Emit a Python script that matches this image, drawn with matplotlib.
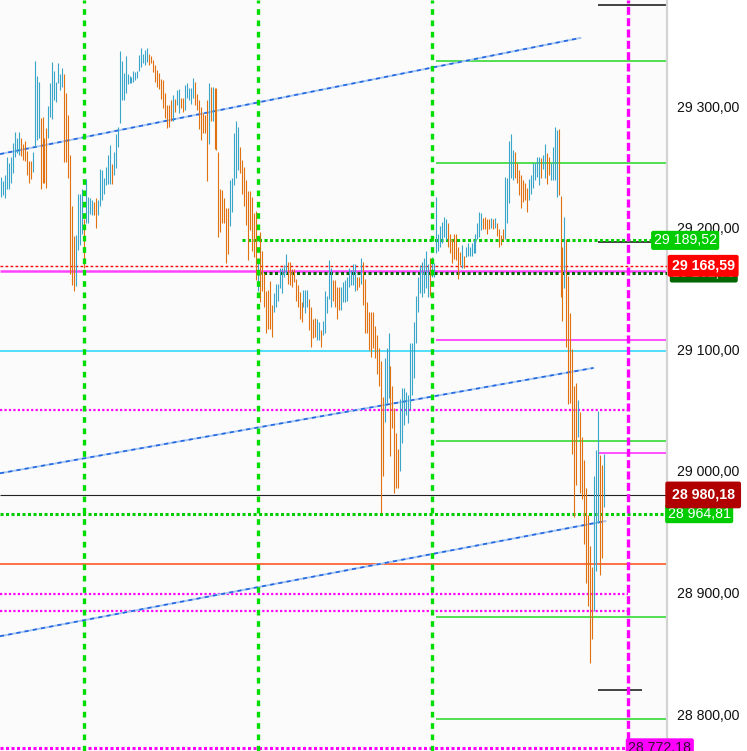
import matplotlib
matplotlib.use("Agg")
import matplotlib.pyplot as plt

plt.rcParams["font.family"] = ["Liberation Sans", "DejaVu Sans"]

# bar data (high, low, direction u=up/blue, d=down/orange)
bar_high = [
    29242, 29238, 29243, 29258, 29253, 29258, 29270, 29279, 29274, 29279,
    29274, 29269, 29271, 29263, 29255, 29255, 29262, 29337, 29325, 29320,
    29290, 29291, 29274, 29282, 29300, 29319, 29336, 29329, 29320, 29335,
    29326, 29331, 29326, 29311, 29293, 29260, 29218, 29193, 29194, 29228,
    29228, 29232, 29207, 29240, 29225, 29224, 29223, 29221, 29224, 29223,
    29248, 29247, 29241, 29250, 29260, 29268, 29252, 29262, 29277, 29283,
    29345, 29337, 29327, 29341, 29326, 29325, 29324, 29329, 29328, 29329,
    29342, 29348, 29343, 29346, 29348, 29343, 29341, 29338, 29334, 29330,
    29327, 29322,
    29321, 29311, 29301, 29301, 29305, 29309, 29306, 29313, 29314, 29307,
    29307, 29317, 29319, 29315, 29315, 29323, 29320, 29310, 29305, 29299,
    29294, 29293, 29305, 29319, 29316, 29316, 29315, 29315, 29262, 29232,
    29231, 29224, 29216, 29216, 29239, 29241, 29278, 29288, 29283, 29266,
    29256, 29250, 29239, 29230, 29230, 29225, 29212, 29214,
    29172,
    29196, 29181, 29163, 29148, 29149, 29156, 29136, 29146, 29154, 29154,
    29167, 29167, 29169, 29178, 29172, 29172, 29166, 29166, 29158, 29153,
    29147, 29139, 29149, 29149, 29149, 29141, 29135, 29125, 29126, 29125,
    29122, 29116, 29123, 29148, 29144, 29173, 29167, 29157, 29157, 29151,
    29151, 29151, 29155, 29157, 29159, 29167, 29165, 29170, 29170, 29159,
    29159, 29175, 29172, 29158, 29139, 29131, 29131, 29131, 29119, 29112,
    29101, 29090, 29061, 29093, 29101, 29113, 29086, 29070, 29052, 29031,
    29018, 29059, 29068, 29068, 29065, 29062, 29105, 29105, 29122, 29144,
    29159, 29169, 29172, 29175, 29181, 29170, 29175, 29176, 29171, 29225,
    29195, 29201, 29205, 29209, 29207, 29204, 29195, 29191, 29195, 29195,
    29184, 29180, 29186, 29177, 29184, 29187, 29184, 29187, 29190, 29195,
    29204, 29213, 29212, 29208, 29209, 29207, 29207, 29208, 29207, 29208,
    29204, 29199, 29194, 29199, 29242, 29241, 29271, 29277, 29264, 29262,
    29253, 29247, 29243, 29239, 29237, 29233, 29240, 29243, 29253, 29253,
    29258, 29258, 29257, 29260, 29269, 29261, 29258, 29253, 29266, 29283,
    29280, 29281, 29226, 29184, 29209, 29191, 29160, 29130, 29100, 29070,
    29072, 29058, 29048, 29028, 29009, 28986, 28964, 28938, 28921, 28996,
    29017, 29049, 29013, 29005, 29014,
]
bar_low = [
    29225, 29227, 29224, 29232, 29232, 29237, 29245, 29258, 29261, 29260,
    29259, 29256, 29255, 29243, 29237, 29240, 29246, 29266, 29272, 29274,
    29232, 29237, 29237, 29233, 29274, 29291, 29289, 29305, 29303, 29319,
    29313, 29316, 29254, 29254, 29241, 29162, 29153, 29148, 29152, 29182,
    29186, 29195, 29167, 29204, 29204, 29211, 29210, 29210, 29200, 29210,
    29218, 29223, 29228, 29235, 29236, 29236, 29236, 29243, 29249, 29266,
    29286, 29305, 29305, 29311, 29318, 29319, 29319, 29320, 29321, 29323,
    29329, 29332, 29335, 29334, 29336, 29334, 29335, 29328, 29320, 29316,
    29314, 29306,
    29298, 29290, 29282, 29283, 29288, 29288, 29295, 29301, 29294, 29298,
    29295, 29297, 29307, 29305, 29302, 29307, 29301, 29297, 29281, 29272,
    29278, 29278, 29238, 29269, 29288, 29288, 29265, 29264, 29192, 29196,
    29204, 29204, 29171, 29178, 29201, 29213, 29235, 29241, 29247, 29245,
    29228, 29218, 29202, 29173, 29198, 29181, 29176, 29157,
    29148,
    29139, 29148, 29135, 29113, 29117, 29117, 29110, 29131, 29135, 29140,
    29150, 29146, 29159, 29162, 29154, 29153, 29151, 29155, 29140, 29135,
    29125, 29122, 29135, 29130, 29135, 29116, 29102, 29109, 29110, 29108,
    29108, 29102, 29112, 29113, 29130, 29141, 29135, 29140, 29135, 29125,
    29132, 29132, 29139, 29139, 29140, 29151, 29153, 29153, 29148, 29149,
    29151, 29154, 29136, 29113, 29113, 29099, 29094, 29101, 29093, 29080,
    29070, 28965, 28996, 29040, 29056, 29060, 29012, 29035, 28982, 28986,
    28986, 29000, 29023, 29038, 29046, 29039, 29051, 29062, 29076, 29105,
    29131, 29146, 29143, 29146, 29150, 29143, 29144, 29159, 29159, 29179,
    29181, 29184, 29187, 29192, 29190, 29184, 29179, 29171, 29174, 29173,
    29158, 29169, 29167, 29167, 29176, 29177, 29177, 29177, 29179, 29179,
    29191, 29192, 29198, 29199, 29199, 29195, 29199, 29200, 29199, 29200,
    29193, 29184, 29186, 29190, 29191, 29204, 29220, 29241, 29239, 29241,
    29237, 29227, 29216, 29221, 29223, 29213, 29223, 29228, 29233, 29239,
    29242, 29235, 29241, 29248, 29241, 29236, 29243, 29239, 29239, 29239,
    29225, 29227, 29143, 29123, 29150, 29102, 29055, 29056, 29014, 28962,
    28988, 29028, 28982, 28977, 28940, 28908, 28889, 28842, 28862, 28885,
    28918, 28957, 28914, 28928, 28970,
]
bar_dir = (
    # first session part
    "uuuuuuuuuu" "dddddd" "uuuu" "dddd" "uuuuuuuu" "dddddd" "uuuu" "d"
    "uuuu" "dd" "uuuuuuu" "d" "uuuuuuuuuuuuuuuuuu" "ddddddd"
    # second part
    "ddddd" "u" "d" "uu" "dd" "uuuuu" "ddddddd" "u" "d" "u" "dddddddd"
    "uuuuu" "ddddddddd"
    "u"
    # third part
    "ddddddd" "uuuuuuu" "dddddddd" "uuu" "dddd" "uu" "d" "uuuuu" "dddd"
    "uuuuuuuu" "dd" "u" "ddddddddddd" "uuu" "ddddd" "uuuuuuuuuuuuuuu" "d"
    "uuuuuuuu" "ddddddd" "u" "d" "uuuuuuuuu" "dddd" "udu" "dddd" "uuuuu"
    "ddddddd" "uuuuuu" "d" "uu" "dd" "uuuu" "ddd" "u" "dddddd" "u"
    "ddddddd" "uuu" "dd" "u"
)

# session boundaries (bar index)
session_lines = [42, 130, 218]
future_line = 317

price_ticks = [28800, 28900, 29000, 29100, 29200, 29300]
y_range = (28769.6, 29387.2)


def fmt(v):
    return f"{v:,.2f}".replace(",", " ").replace(".", ",")


n = len(bar_high)
step = 603 / (n - 1)
x_left = -1 / step
x_right = 666 / step

fig = plt.figure(figsize=(7.47, 7.51), dpi=100)
ax = fig.add_axes([0, 0, 667 / 747, 1])
ax.set_facecolor("#fbfbfb")
ax.set_xlim(x_left, x_right)
ax.set_ylim(*y_range)

# horizontal levels: (price, start index or None, end index or None, color, lw)
levels = [
    (29337, 220, None, "#44dd44", 1.3),
    (29253, 220, None, "#44dd44", 1.3),
    (29107.6, 220, None, "#ff44ff", 1.3),
    (29098.5, None, None, "#44ddff", 1.3),
    (29024.5, 220, None, "#44dd44", 1.3),
    (29014.6, 302, None, "#ff44ff", 1.3),
    (28980.18, None, None, "#222222", 0.8),
    (28923.4, None, None, "#ff6633", 1.3),
    (28879.8, 220, None, "#44dd44", 1.3),
    (28795.9, 220, None, "#44dd44", 1.3),
    (29164.0, None, None, "#ff44ff", 1.8),
    (29383, 302, None, "#333333", 1.3),
    (29188, 302, 330, "#333333", 1.3),
    (28820, 302, 324, "#333333", 1.3),
]
for p, x0, x1, c, lw in levels:
    ax.hlines(p, x_left if x0 is None else x0, x_right if x1 is None else x1,
              color=c, lw=lw, zorder=2)

# dotted levels
dotted = [
    (29189.52, 122, x_right, "#00cc00", 2.2, (0, (1.0, 0.8))),
    (29168.59, x_left, x_right, "#ff0000", 1.0, (0, (2.0, 1.6))),
    (29162.7, 130, x_right, "#006600", 2.2, (0, (1.0, 0.8))),
    (29050, x_left, future_line, "#ff00ff", 1.6, (0, (1.0, 1.0))),
    (28964.81, x_left, x_right, "#00cc00", 2.2, (0, (1.0, 0.8))),
    (28898.7, x_left, future_line, "#ff00ff", 1.6, (0, (1.0, 1.0))),
    (28884.7, x_left, future_line, "#ff00ff", 1.6, (0, (1.0, 1.0))),
    (28772.18, x_left, x_right, "#ff00ff", 2.2, (0, (1.0, 0.8))),
]
for p, x0, x1, c, lw, ls in dotted:
    ax.hlines(p, x0, x1, color=c, lw=lw, linestyle=ls, zorder=3)

# trend channel lines: (x0, p0, x1, p1)
trends = [
    (-0.5, 29260.5, 293, 29356),
    (-0.5, 28998, 299.6, 29084.6),
    (-0.5, 28864, 305.7, 28958.7),
]
for x0, p0, x1, p1 in trends:
    ax.plot([x0, x1], [p0, p1], color="#a8c8f4", lw=1.4, zorder=3)
    ax.plot([x0, x1], [p0, p1], color="#2266e0", lw=1.2,
            linestyle=(0, (2.5, 2.5)), zorder=3)

# bars
colors = ["#39a5c8" if d == "u" else "#e07010" for d in bar_dir]
ax.vlines(range(n), bar_low, bar_high, colors=colors, lw=0.8, zorder=4)

for s in session_lines:
    ax.axvline(s, color="#00dd00", lw=2.4, linestyle=(0, (1.7, 1.7)), zorder=5)
ax.axvline(future_line, color="#ff00ff", lw=2.4, linestyle=(0, (2.4, 1.0)), zorder=5)

# axis styling
for side in ["top", "left", "bottom"]:
    ax.spines[side].set_visible(False)
ax.spines["right"].set_color("#d4d4d4")
ax.spines["right"].set_linewidth(1.6)
ax.set_xticks([])
ax.yaxis.tick_right()
ax.set_yticks(price_ticks)
ax.set_yticklabels([fmt(v) for v in price_ticks])
ax.tick_params(axis="y", length=0, pad=7, labelsize=10.2, labelcolor="#111111")

trans = ax.get_yaxis_transform()
# (price, x in axes fraction, background, text colour, weight, box pad, layer)
tags = [
    (29189.52, 0.980, "#00cc00", "white", "normal", 0.18, 10),
    (29162.7, 1.008, "#006600", "white", "normal", 0.18, 9),
    (29168.59, 1.007, "#ff0000", "white", "bold", 0.28, 11),
    (28980.18, 1.007, "#b00000", "white", "bold", 0.45, 11),
    (28964.81, 1.001, "#00cc00", "white", "normal", 0.18, 10),
    (28772.18, 0.942, "#ff00ff", "#331133", "normal", 0.18, 10),
]
for p, xpos, bg, fg, wt, pad, z in tags:
    ax.text(xpos, p, fmt(p), transform=trans, ha="left", va="center",
            color=fg, fontsize=10.2, fontweight=wt, clip_on=False, zorder=z,
            bbox=dict(boxstyle=f"round,pad={pad},rounding_size=0.15",
                      fc=bg, ec="none"))

fig.savefig("out.png", dpi=100, facecolor="white")
